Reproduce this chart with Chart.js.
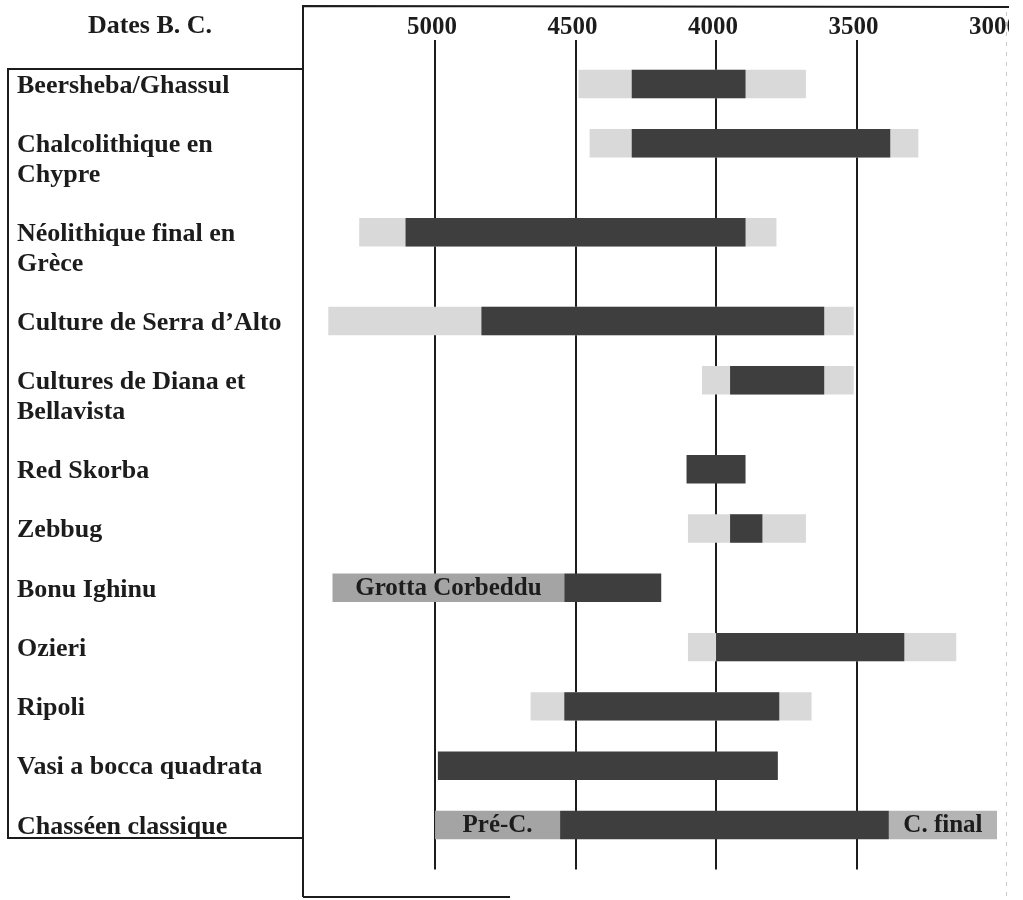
<!DOCTYPE html>
<html lang="fr">
<head>
<meta charset="utf-8">
<title>Dates B. C.</title>
<script src="https://cdn.jsdelivr.net/npm/chart.js@4.4.1/dist/chart.umd.min.js"></script>
<style>
  html, body { margin: 0; padding: 0; background: #fff; }
  #wrap { position: relative; width: 1009px; height: 900px; }
</style>
</head>
<body>
<div id="wrap"><canvas id="chart"></canvas></div>
<script>
// une entrée par culture, une chaîne par ligne de texte
const CULTURES = [
  ['Beersheba/Ghassul'],
  ['Chalcolithique en', 'Chypre'],
  ['Néolithique final en', 'Grèce'],
  ['Culture de Serra d\u2019Alto'],
  ['Cultures de Diana et', 'Bellavista'],
  ['Red Skorba'],
  ['Zebbug'],
  ['Bonu Ighinu'],
  ['Ozieri'],
  ['Ripoli'],
  ['Vasi a bocca quadrata'],
  ['Chasséen classique'],
];

// dates B.C. [début, fin] - phase principale (gris foncé)
const CORE = [
  [4300, 3895], [4300, 3380], [5105, 3895], [4835, 3615], [3950, 3615], [4105, 3895],
  [3950, 3835], [4540, 4195], [4000, 3330], [4540, 3775], [4990, 3780], [4555, 3385],
];
// extension possible (gris clair)
const EXTENT = [
  [4490, 3680], [4450, 3280], [5270, 3785], [5380, 3510], [4050, 3510], null,
  [4100, 3680], null, [4100, 3145], [4660, 3660], null, null,
];
// phases nommées (gris moyen)
const EARLY = [null, null, null, null, null, null, null, [5365, 4540], null, null, null, [5000, 4555]];
const EARLY_NAMES = ['', '', '', '', '', '', '', 'Grotta Corbeddu', '', '', '', 'Pré-C.'];
const LATE = [null, null, null, null, null, null, null, null, null, null, null, [3385, 3000]];
const LATE_NAMES = ['', '', '', '', '', '', '', '', '', '', '', 'C. final'];

const TICKS = [5000, 4500, 4000, 3500, 3000];
const GRID_AT = [5000, 4500, 4000, 3500];

const FONT = "'Liberation Serif', 'Times New Roman', serif";
const INK = '#1c1c1c';

// une catégorie par ligne de texte, plus une ligne vide entre les cultures
const lines = [''];
const rowOf = [];
CULTURES.forEach(c => {
  rowOf.push(lines.length);
  lines.push(...c);
  lines.push('');
});

function spread(arr) {
  const out = lines.map(() => null);
  arr.forEach((v, i) => { if (v) out[rowOf[i]] = v; });
  return out;
}
function spreadNames(arr) {
  const out = lines.map(() => '');
  arr.forEach((v, i) => { out[rowOf[i]] = v; });
  return out;
}

const barBase = {
  grouped: false,
  categoryPercentage: 1,
  barPercentage: 0.96,
  borderWidth: 0,
  borderSkipped: false,
};

const barText = {
  id: 'barText',
  afterDatasetsDraw(chart) {
    const ctx = chart.ctx;
    ctx.save();
    ctx.font = 'bold 25px ' + FONT;
    ctx.fillStyle = INK;
    ctx.textAlign = 'center';
    ctx.textBaseline = 'middle';
    chart.data.datasets.forEach((ds, i) => {
      if (!ds.names) return;
      chart.getDatasetMeta(i).data.forEach((el, j) => {
        const name = ds.names[j];
        if (!name || !ds.data[j]) return;
        ctx.fillText(name, (el.x + el.base) / 2, el.y + 1);
      });
    });
    ctx.restore();
  },
};

const frame = {
  id: 'frame',
  afterDraw(chart) {
    const ctx = chart.ctx;
    const a = chart.chartArea;
    ctx.save();
    ctx.strokeStyle = INK;
    ctx.lineWidth = 2;
    // cadre du graphique
    ctx.beginPath();
    ctx.moveTo(a.left, 897);
    ctx.lineTo(a.left, 6);
    ctx.lineTo(chart.width, 7);
    ctx.moveTo(a.left, 897);
    ctx.lineTo(510, 897);
    ctx.stroke();
    // bord droit pointillé
    ctx.strokeStyle = '#c8c8c8';
    ctx.lineWidth = 1;
    ctx.setLineDash([4, 6]);
    ctx.beginPath();
    ctx.moveTo(a.right + 0.5, 12);
    ctx.lineTo(a.right + 0.5, 897);
    ctx.stroke();
    ctx.setLineDash([]);
    // cadre des libellés
    ctx.strokeStyle = INK;
    ctx.lineWidth = 2;
    ctx.strokeRect(8, 69, a.left - 8, 769);
    // titre de l'axe
    ctx.font = 'bold 26px ' + FONT;
    ctx.fillStyle = INK;
    ctx.textAlign = 'center';
    ctx.textBaseline = 'middle';
    ctx.fillText('Dates B. C.', 150, 26);
    ctx.restore();
  },
};

new Chart(document.getElementById('chart'), {
  type: 'bar',
  data: {
    labels: lines,
    datasets: [
      { ...barBase, label: 'phase', data: spread(CORE), backgroundColor: '#3e3e3e', order: 0 },
      { ...barBase, label: 'début', data: spread(EARLY), names: spreadNames(EARLY_NAMES), backgroundColor: '#a4a4a4', order: 1 },
      { ...barBase, label: 'fin', data: spread(LATE), names: spreadNames(LATE_NAMES), backgroundColor: '#b4b4b4', order: 1 },
      { ...barBase, label: 'extension', data: spread(EXTENT), backgroundColor: '#d9d9d9', order: 2 },
    ],
  },
  options: {
    indexAxis: 'y',
    responsive: true,
    maintainAspectRatio: false,
    animation: false,
    layout: { padding: { left: 17, right: 3, top: 0, bottom: 30.6 } },
    plugins: { legend: { display: false }, tooltip: { enabled: false } },
    scales: {
      x: {
        type: 'linear',
        position: 'top',
        reverse: true,
        min: 2968,
        max: 5470,
        afterBuildTicks: s => { s.ticks = TICKS.map(v => ({ value: v })); },
        afterFit: s => { s.height = 39.5; s.paddingLeft = 0; s.paddingRight = 0; },
        ticks: {
          autoSkip: false,
          maxRotation: 0,
          padding: -3,
          labelOffset: -3,
          color: INK,
          font: { family: FONT, size: 25, weight: 'bold' },
          callback: v => String(v),
        },
        grid: {
          drawTicks: false,
          lineWidth: 2,
          color: c => (c.tick && GRID_AT.includes(c.tick.value)) ? INK : 'rgba(0,0,0,0)',
        },
        border: { display: false },
      },
      y: {
        type: 'category',
        afterFit: s => { s.width = 286; s.paddingTop = 0; s.paddingBottom = 0; },
        ticks: {
          autoSkip: false,
          crossAlign: 'far',
          padding: 0,
          labelOffset: 2,
          color: INK,
          font: { family: FONT, size: 26, weight: 'bold' },
        },
        grid: { display: false },
        border: { display: false },
      },
    },
  },
  plugins: [barText, frame],
});
</script>
</body>
</html>
